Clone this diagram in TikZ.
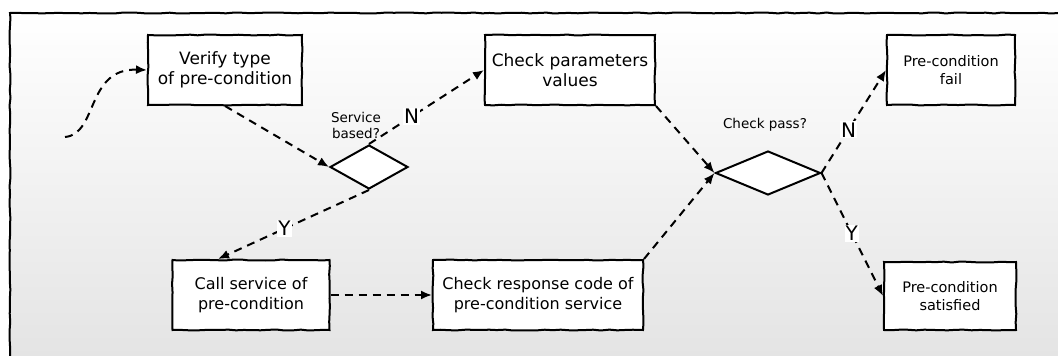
\documentclass[tikz,border=0pt]{standalone}
\usepackage{fontspec}
\setmainfont{DejaVu Sans}
\usetikzlibrary{shapes.geometric,arrows.meta,decorations.pathmorphing,calc}

\tikzset{
  sketch/.style={decorate,decoration={random steps,segment length=8pt,amplitude=0.5pt}},
  box/.style={draw,sketch,fill=white,line width=2pt,align=center,inner sep=1pt,minimum height=70pt},
  bigtext/.style={font=\fontsize{17}{20}\selectfont},
  midtext/.style={font=\fontsize{16}{20}\selectfont},
  smalltext/.style={font=\fontsize{14.5}{18}\selectfont},
  choice/.style={draw,diamond,fill=white,line width=2pt,inner sep=0pt},
  flow/.style={dash pattern=on 8pt off 6pt,line width=2pt,-{Latex[length=11pt,width=9pt]}},
  yn/.style={fill=white,inner sep=1pt,font=\fontsize{20}{20}\selectfont},
  ask/.style={align=center,font=\fontsize{13.5}{16}\selectfont},
}

\begin{document}
\begin{tikzpicture}[x=1pt,y=-1pt]
\useasboundingbox (0,0) rectangle (1058,356);
\clip (0,0) rectangle (1058,356);
\pgfmathsetseed{7}
% frame
\shade[top color=white,bottom color=black!11] (10,13) rectangle (1070,370);
\draw[sketch,line width=2pt] (10,370) -- (10,13) -- (1070,13);

% boxes
\node[box,bigtext,minimum width=154pt] (verify) at (225,70) {Verify type\\of pre-condition};
\node[box,bigtext,minimum width=170pt] (params) at (570,70) {Check parameters\\values};
\node[box,smalltext,minimum width=128pt] (fail) at (951,70) {Pre-condition\\fail};
\node[box,midtext,minimum width=157pt] (call) at (251,295) {Call service of\\pre-condition};
\node[box,midtext,minimum width=210pt] (response) at (538,295) {Check response code of\\pre-condition service};
\node[box,smalltext,minimum width=132pt,minimum height=68pt] (satisfied) at (950,296) {Pre-condition\\satisfied};

% decisions
\node[choice,minimum width=78pt,minimum height=44pt] (service) at (369,167) {};
\node[ask] (serviceq) at (356,125) {Service\\based?};
\node[choice,minimum width=105pt,minimum height=44pt] (pass) at (768,173) {};
\node[ask] (passq) at (765,125) {Check pass?};

% flow
\coordinate (entry) at (65,137);
\draw[flow] (entry) .. controls (98,134) and (86,68) .. (verify.west);
\draw[flow] (verify.south) -- (service.west);
\draw[flow] (service.north) -- node[yn,pos=0.37] (no1) {N} (params.west);
\draw[flow] (service.south) -- node[yn,pos=0.56] (yes1) {Y} ([xshift=-33pt]call.north);
\draw[flow] (call.east) -- (response.west);
\draw[flow] (response.north east) -- (pass.west);
\draw[flow] (params.south east) -- (pass.west);
\draw[flow] (pass.east) -- node[yn,pos=0.42] (no2) {N} (fail.west);
\draw[flow] (pass.east) -- node[yn,pos=0.49] (yes2) {Y} (satisfied.west);
\end{tikzpicture}
\end{document}
